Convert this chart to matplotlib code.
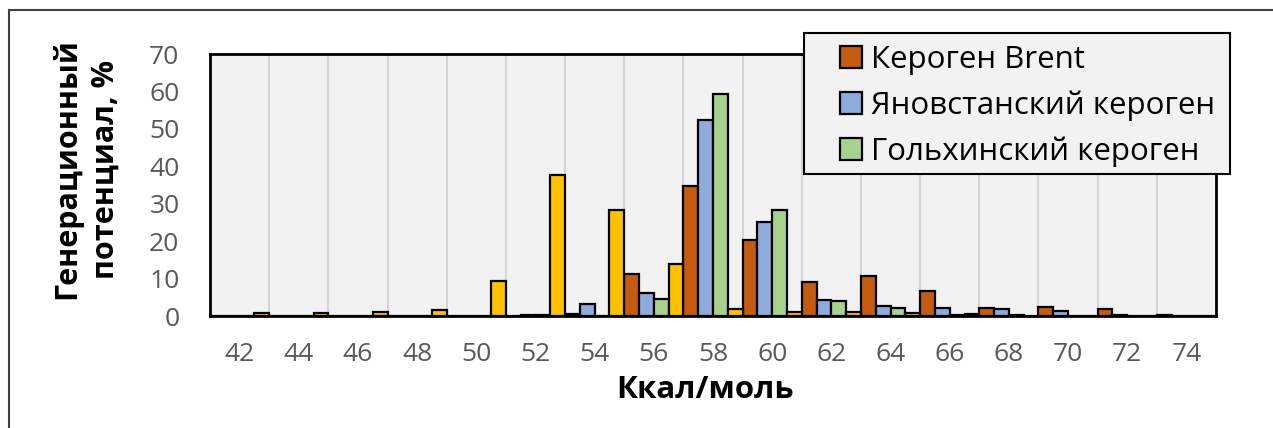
import matplotlib
matplotlib.use("Agg")
import matplotlib.pyplot as plt
import numpy as np
from matplotlib.lines import Line2D
from matplotlib.patches import Patch, Rectangle

plt.rcParams['font.family'] = ['Open Sans', 'DejaVu Sans']

# Activation energy classes, kcal/mol
energies = [42, 44, 46, 48, 50, 52, 54, 56, 58, 60, 62, 64, 66, 68, 70, 72, 74]

# Generation potential, %
brent = [0, 0, 0, 0, 0, 0, 0.6, 11.3, 34.6, 20.3, 9.0, 10.6, 6.7, 2.2, 2.4, 1.8, 0.3]
yanov = [0, 0, 0, 0, 0, 0.2, 3.1, 6.1, 52.4, 25.2, 4.2, 2.7, 2.2, 1.8, 1.4, 0.2, 0]
golkh = [0, 0, 0, 0, 0.1, 0.2, 0, 4.5, 59.4, 28.3, 4.0, 2.2, 0.3, 0.2, 0, 0, 0]
extra = [0.9, 0.9, 1.1, 1.5, 9.4, 37.7, 28.3, 14.0, 1.9, 1.2, 1.1, 0.9, 0.6, 0, 0, 0, 0]

series_names = ['Кероген Brent', 'Яновстанский кероген', 'Гольхинский кероген']
colors = ['#C55A11', '#8FAADC', '#A9D18E', '#FFC000']

W, H = 1273, 428
fig = plt.figure(figsize=(W / 100, H / 100), dpi=100)
fig.patch.set_facecolor('white')

ax = fig.add_axes([210 / W, 1 - 316 / H, (1216 - 210) / W, (316 - 54) / H])
ax.set_facecolor('#F2F2F2')

x = np.arange(len(energies))
bw = 0.25
for k, (vals, c) in enumerate(zip([brent, yanov, golkh, extra], colors)):
    ax.bar(x + (k - 1.5) * bw, vals, width=bw, color=c, edgecolor='black',
           linewidth=1.6, zorder=3)

ax.set_xlim(-0.5, len(energies) - 0.5)
ax.set_ylim(0, 70)
ax.set_yticks(range(0, 71, 10))
ax.set_xticks(x)
ax.set_xticklabels([str(e) for e in energies])
ax.set_xticks(x[:-1] + 0.5, minor=True)
ax.grid(axis='x', which='minor', color='#D4D4D4', linewidth=1.5, zorder=0)
ax.grid(axis='x', which='major', visible=False)
ax.tick_params(axis='both', which='both', length=0, labelsize=19, colors='#595959')
ax.tick_params(axis='y', pad=22)
ax.tick_params(axis='x', pad=19)
for sp in ax.spines.values():
    sp.set_color('black')
    sp.set_linewidth(2)
    sp.set_zorder(4)

fig.text(86 / W, 1 - 169 / H, 'Генерационный\nпотенциал, %', rotation=90,
         ha='center', va='center', multialignment='center',
         fontsize=22, fontweight='bold', color='black', linespacing=1.4)
fig.text(705 / W, 1 - 390 / H, 'Ккал/моль', ha='center', va='center',
         fontsize=22.5, fontweight='bold', color='black')

# legend box
fig.add_artist(Rectangle((804 / W, 1 - 174 / H), (1230 - 804) / W, (174 - 33) / H,
                         transform=fig.transFigure, facecolor='#F2F2F2',
                         edgecolor='black', linewidth=1.5, zorder=9))
handles = [Patch(facecolor=c, edgecolor='black', linewidth=1.6) for c in colors[:3]]
leg = fig.legend(handles, series_names, loc='upper left',
                 bbox_to_anchor=(840 / W, 1 - 45 / H), fontsize=22.5,
                 frameon=False, borderpad=0, labelspacing=0.5,
                 handlelength=0.7, handleheight=0.7, handletextpad=0.3,
                 borderaxespad=0)
leg.set_zorder(10)

# outer frame of the chart area
fig.add_artist(Line2D([9 / W, 1], [1 - 10 / H, 1 - 10 / H], color='#404040',
                      linewidth=1.5, transform=fig.transFigure))
fig.add_artist(Line2D([9 / W, 9 / W], [0, 1 - 10 / H], color='#404040',
                      linewidth=1.5, transform=fig.transFigure))

fig.savefig('out.png', dpi=100, facecolor='white')
